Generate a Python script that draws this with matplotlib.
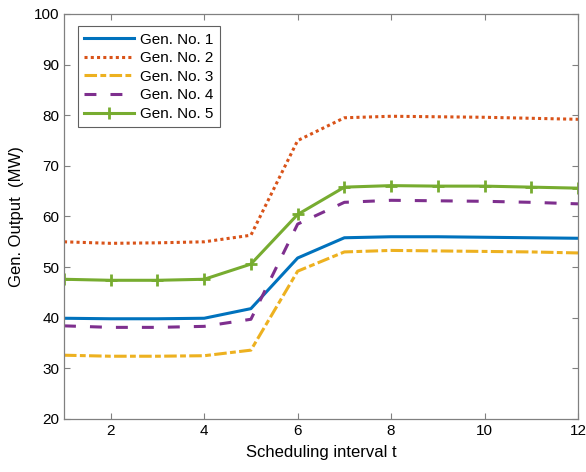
import numpy as np
import matplotlib.pyplot as plt

plt.rcParams['font.family'] = ['Liberation Sans', 'DejaVu Sans']

# Données
t = list(range(1, 13))
gen1 = [39.9, 39.8, 39.8, 39.9, 41.8, 51.8, 55.8, 56.0, 56.0, 55.9, 55.8, 55.7]
gen2 = [55.0, 54.7, 54.8, 55.0, 56.3, 75.0, 79.5, 79.8, 79.7, 79.6, 79.4, 79.2]
gen3 = [32.6, 32.4, 32.4, 32.5, 33.6, 49.2, 53.0, 53.3, 53.2, 53.1, 53.0, 52.8]
gen4 = [38.4, 38.1, 38.1, 38.3, 39.7, 58.5, 62.8, 63.2, 63.1, 63.0, 62.8, 62.5]
gen5 = [47.6, 47.4, 47.4, 47.6, 50.6, 60.4, 65.8, 66.1, 66.0, 66.0, 65.8, 65.6]
labels = ['Gen. No. 1', 'Gen. No. 2', 'Gen. No. 3', 'Gen. No. 4', 'Gen. No. 5']

fig = plt.figure(figsize=(5.86, 4.72), dpi=100)
ax = fig.add_axes([64 / 586, 1 - 419 / 472, (578 - 64) / 586, (419 - 14) / 472])

lw = 2.2
ax.plot(t, gen1, color=(0, 0.447, 0.741), lw=lw, label=labels[0])
ax.plot(t, gen2, color=(0.85, 0.325, 0.098), lw=lw, ls=(0, (1, 1.05)), label=labels[1])
ax.plot(t, gen3, color=(0.929, 0.694, 0.125), lw=lw, ls=(0, (4.1, 1.1, 1.9, 1.1)), label=labels[2])
ax.plot(t, gen4, color=(0.494, 0.184, 0.556), lw=lw, ls=(0, (3.9, 4.6)), label=labels[3])
ax.plot(t, gen5, color=(0.466, 0.674, 0.188), lw=lw, marker='+', ms=9, mew=2, label=labels[4])

ax.set_xlim(1, 12)
ax.set_ylim(20, 100)
ax.set_xticks([2, 4, 6, 8, 10, 12])
ax.set_yticks(range(20, 101, 10))
ax.tick_params(direction='in', top=True, right=True, labelsize=11, length=4,
               color='#808080', width=0.8)
for s in ax.spines.values():
    s.set_color('#808080')
    s.set_linewidth(0.9)
ax.set_xlabel('Scheduling interval t', fontsize=12, labelpad=5)
ax.set_ylabel('Gen. Output  (MW)', fontsize=12, labelpad=7)

leg = ax.legend(loc='upper left', bbox_to_anchor=(0.012, 0.988), fontsize=11,
                handlelength=3.3, fancybox=False, framealpha=1, borderpad=0.4,
                labelspacing=0.3, handletextpad=0.4)
leg.get_frame().set_edgecolor('#606060')
leg.get_frame().set_linewidth(0.8)

plt.savefig('out.png', dpi=100)
